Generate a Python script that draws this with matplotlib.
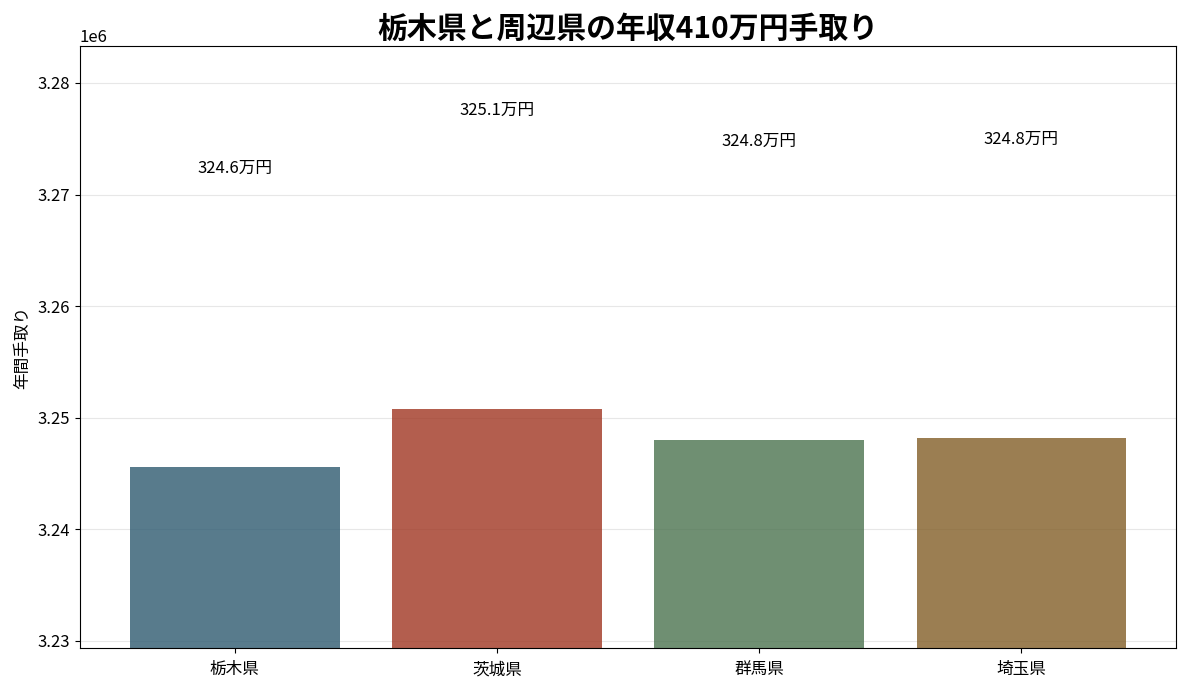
import matplotlib
matplotlib.use("Agg")
import matplotlib.pyplot as plt

plt.rcParams['font.family'] = ['Noto Sans CJK JP', 'DejaVu Sans']

# Data
prefectures = ["栃木県", "茨城県", "群馬県", "埼玉県"]
take_home = [3245590, 3250790, 3248010, 3248190]
colors = ["#2E5A70", "#A03622", "#4B734F", "#825E27"]

fig, ax = plt.subplots(figsize=(11.88, 6.89), dpi=100)

bars = ax.bar(prefectures, take_home, color=colors, alpha=0.8, width=0.8)

# value labels above bars
for bar, v in zip(bars, take_home):
    ax.text(bar.get_x() + bar.get_width() / 2, v * 1.008,
            f"{v / 10000:.1f}万円", ha='center', va='bottom', fontsize=12)

ax.set_ylim(min(take_home) * 0.995, max(take_home) * 1.01)
ax.set_title("栃木県と周辺県の年収410万円手取り", fontsize=21.5, fontweight='bold')
ax.set_ylabel("年間手取り", fontsize=12, labelpad=5)
ax.tick_params(labelsize=12)
ax.tick_params(axis='x', pad=6)
ax.yaxis.get_offset_text().set_fontsize(12)
ax.grid(axis='y', alpha=0.3)
ax.set_axisbelow(True)

fig.subplots_adjust(left=0.0673, right=0.99, top=0.933, bottom=0.0595)
plt.savefig("out.png", dpi=100)
